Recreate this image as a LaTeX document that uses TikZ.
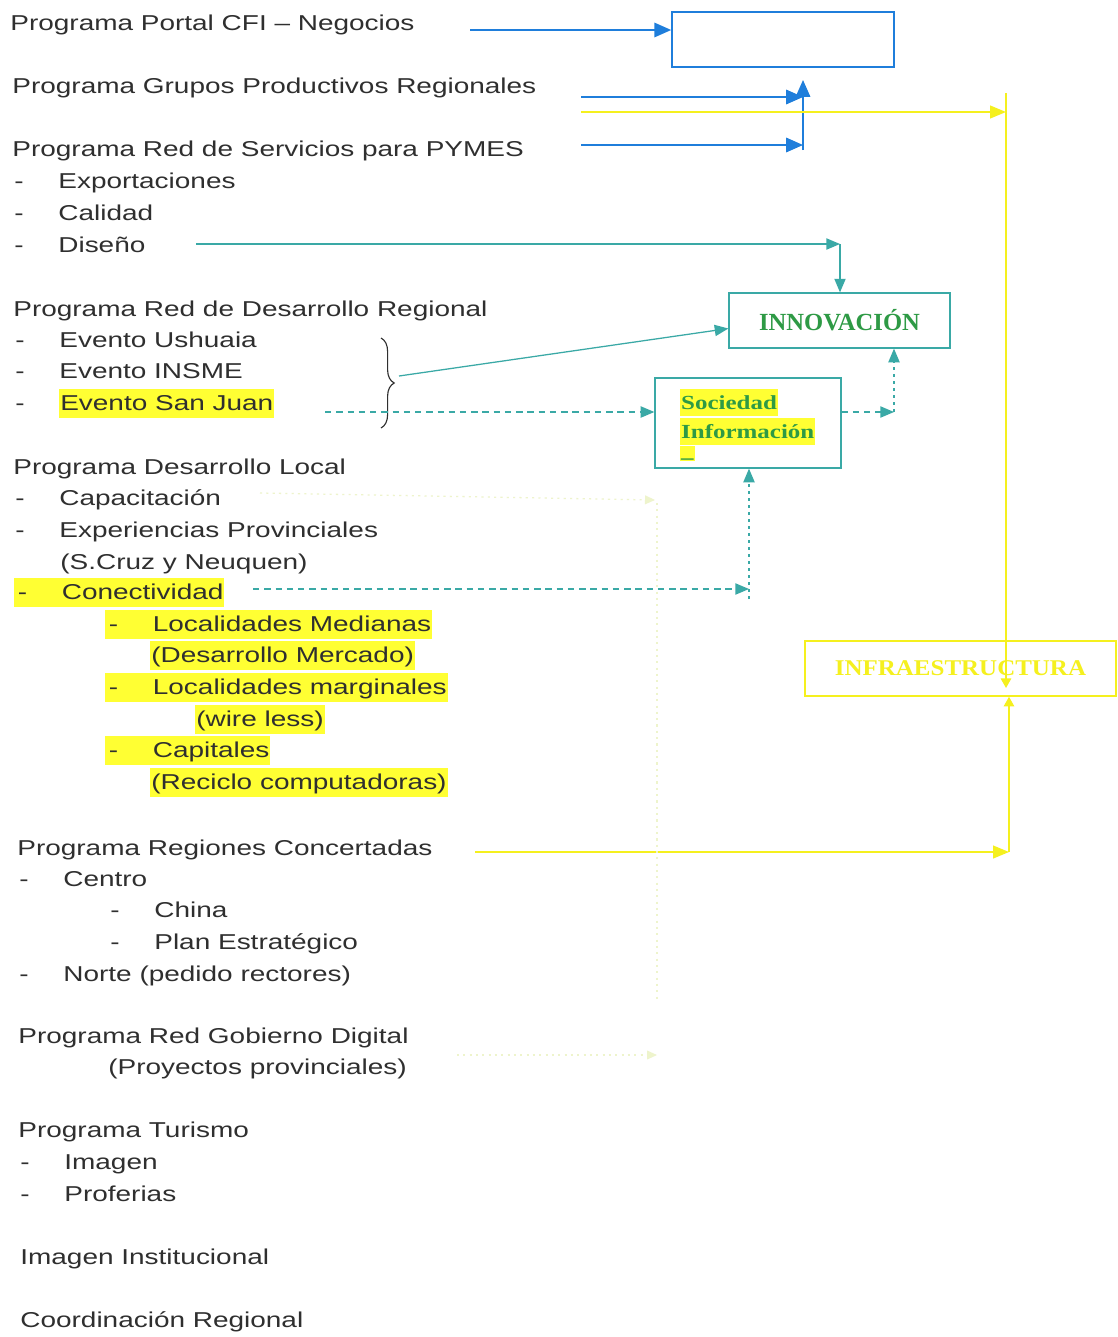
\documentclass[tikz,border=0pt]{standalone}
\usepackage{fontspec}
\setmainfont{Liberation Sans}
\newfontfamily\boxserif{Liberation Serif}
\usetikzlibrary{arrows.meta, decorations.pathreplacing}
\definecolor{colText}{HTML}{2F2F2F}
\definecolor{colBlue}{HTML}{1F7EDB}
\definecolor{colTeal}{HTML}{3AA9A6}
\definecolor{colGreen}{HTML}{2E9A45}
\definecolor{colYel}{HTML}{F5F01E}
\definecolor{colHl}{HTML}{FFFF33}
\definecolor{colFaint}{HTML}{EEF4CC}
\setlength{\fboxsep}{0.5pt}
\newcommand{\hlt}[1]{\colorbox{colHl}{\rule[-0.32em]{0pt}{1.28em}#1}}
\newcommand{\tabdash}{\makebox[0.846cm][l]{-}}

\begin{document}
\begin{tikzpicture}[
  x=0.025cm, y=-0.025cm,
  txt/.style={anchor=base west, inner sep=0pt, xscale=1.3, text=colText,
    font=\fontsize{15.3}{18}\selectfont},
  blueBox/.style={draw=colBlue, line width=1.1pt, minimum width=5.55cm,
    minimum height=1.375cm, inner sep=0pt},
  innoBox/.style={draw=colTeal, line width=0.9pt, minimum width=5.525cm,
    minimum height=1.375cm, inner sep=0pt, text=colGreen,
    font=\boxserif\bfseries\fontsize{17.5}{20}\selectfont},
  socBox/.style={draw=colTeal, line width=0.9pt, minimum width=4.65cm,
    minimum height=2.25cm, inner sep=0pt},
  socLbl/.style={anchor=north west, inner sep=0pt, align=left, xscale=1.25,
    text=colGreen, font=\boxserif\bfseries\fontsize{14.2}{20.6}\selectfont},
  infraBox/.style={draw=colYel, line width=1.1pt, xscale=1.11,
    minimum width=7.0cm, minimum height=1.375cm, inner sep=0pt, text=colYel,
    font=\boxserif\bfseries\fontsize{16}{19}\selectfont},
  bluearr/.style={-{Triangle[length=0.42cm,width=0.36cm]}, colBlue, line width=1.3pt},
  yelarr/.style={-{Triangle[length=0.4cm,width=0.32cm]}, colYel, line width=1.3pt},
  yelarrS/.style={-{Triangle[length=0.24cm,width=0.26cm]}, colYel, line width=1.1pt},
  tealarr/.style={-{Triangle[length=0.34cm,width=0.28cm]}, colTeal, line width=0.9pt},
  tealdash/.style={tealarr, dash pattern=on 4.5pt off 3.5pt},
  tealdot/.style={tealarr, dash pattern=on 2pt off 3pt},
  faintarr/.style={-{Triangle[length=0.25cm,width=0.22cm]}, colFaint,
    line width=0.9pt, dash pattern=on 1.5pt off 3pt},
]

\fill[white] (0,0) rectangle (1118,1337);
\useasboundingbox (0,0) rectangle (1118,1337);

%% ============================================================
%% Program list (left column)
%% ============================================================
\node[txt] (progPortal) at (10,30) {Programa Portal CFI – Negocios};
\node[txt] (progGrupos) at (12,93) {Programa Grupos Productivos Regionales};
\node[txt] (progServ)   at (12,156) {Programa Red de Servicios para PYMES};
\node[txt] (itExport)   at (14,188) {\tabdash Exportaciones};
\node[txt] (itCalidad)  at (14,220) {\tabdash Calidad};
\node[txt] (itDiseno)   at (14,252) {\tabdash Diseño};

\node[txt] (progDesReg) at (13,316) {Programa Red de Desarrollo Regional};
\node[txt] (itUshuaia)  at (15,347) {\tabdash Evento Ushuaia};
\node[txt] (itInsme)    at (15,378) {\tabdash Evento INSME};
\node[txt] (itSanJuan)  at (15,410) {\tabdash\hlt{Evento San Juan}};

\node[txt] (progDesLoc) at (13,474) {Programa Desarrollo Local};
\node[txt] (itCapac)    at (15,505) {\tabdash Capacitación};
\node[txt] (itExper)    at (15,537) {\tabdash Experiencias Provinciales};
\node[txt] (itExperB)   at (60,569) {(S.Cruz y Neuquen)};
\node[txt] (itConect)   at (14,599) {\hlt{\hspace{0.05cm}\tabdash Conectividad}};
\node[txt] (itLocMed)   at (105,631) {\hlt{\hspace{0.05cm}\tabdash Localidades Medianas}};
\node[txt] (itLocMedB)  at (150,662) {\hlt{(Desarrollo Mercado)}};
\node[txt] (itLocMarg)  at (105,694) {\hlt{\hspace{0.05cm}\tabdash Localidades marginales}};
\node[txt] (itLocMargB) at (195,726) {\hlt{(wire less)}};
\node[txt] (itCapit)    at (105,757) {\hlt{\hspace{0.05cm}\tabdash Capitales}};
\node[txt] (itCapitB)   at (150,789) {\hlt{(Reciclo computadoras)}};

\node[txt] (progRegiones) at (17,855) {Programa Regiones Concertadas};
\node[txt] (itCentro)   at (19,886) {\tabdash Centro};
\node[txt] (itChina)    at (110,917) {\tabdash China};
\node[txt] (itPlan)     at (110,949) {\tabdash Plan Estratégico};
\node[txt] (itNorte)    at (19,981) {\tabdash Norte (pedido rectores)};

\node[txt] (progGobDig)  at (18,1043) {Programa Red Gobierno Digital};
\node[txt] (progGobDigB) at (108,1074) {(Proyectos provinciales)};

\node[txt] (progTurismo) at (18,1137) {Programa Turismo};
\node[txt] (itImagen)    at (20,1169) {\tabdash Imagen};
\node[txt] (itProferias) at (20,1201) {\tabdash Proferias};

\node[txt] (imgInst)  at (20,1264) {Imagen Institucional};
\node[txt] (coordReg) at (20,1327) {Coordinación Regional};

%% ============================================================
%% Target boxes (right side)
%% ============================================================
\node[blueBox] (portalBox) at (783,39.5) {};
\node[innoBox] (innov) at (839.5,320.5) {INNOVACIÓN};
\node[socBox] (socinf) at (748,423) {};
\node[socLbl] (socText) at (680,389)
  {\hlt{Sociedad}\\\hlt{Información}\\[-7pt]\colorbox{colHl}{\rule[-0.05em]{0pt}{0.6em}\_}};
\node[infraBox] (infra) at (960.5,668.5) {INFRAESTRUCTURA};

%% ============================================================
%% Blue connectors
%% ============================================================
\coordinate (aPortal) at (470,30);
\coordinate (aGrupos) at (581,97);
\coordinate (aServ) at (581,145);
\coordinate (jBlue) at (803,145);
\coordinate (jBlueBot) at (803,150);
\coordinate (jBlueTop) at (803,80);
\draw[bluearr] (aPortal) -- (aPortal -| portalBox.west);
\draw[bluearr] (aGrupos) -- (aGrupos -| jBlue);
\draw[bluearr] (aServ) -- (jBlue);
\draw[bluearr] (jBlueBot) -- (jBlueTop);

%% ============================================================
%% Yellow connectors (to infraestructura)
%% ============================================================
\coordinate (aYel) at (581,112);
\coordinate (yTop) at (1006,93);
\coordinate (yDown) at (1006,688);
\coordinate (aReg) at (475,852);
\coordinate (yBot) at (1009,852);
\draw[yelarr] (aYel) -- (aYel -| yTop);
\draw[yelarrS] (yTop) -- (yDown);
\draw[yelarr] (aReg) -- (yBot);
\draw[yelarrS] (yBot) -- (yBot |- infra.south);

%% ============================================================
%% Teal connectors (innovacion / sociedad informacion)
%% ============================================================
\coordinate (aDiseno) at (196,244);
\coordinate (jDiseno) at (840,244);
\draw[tealarr] (aDiseno) -- (jDiseno);
\draw[tealarr] (jDiseno) -- (jDiseno |- innov.north);

\draw[colText, line width=0.8pt, decorate, decoration={brace, amplitude=0.33cm}]
  (381,338) -- (381,428);
\coordinate (brTip) at (399,376);
\draw[tealarr] (brTip) -- ([yshift=-0.2cm]innov.west);

\coordinate (aSanJuan) at (325,412);
\coordinate (jSoc) at (894,412);
\draw[tealdash] (aSanJuan) -- (aSanJuan -| socinf.west);
\draw[tealdash] (jSoc -| socinf.east) -- (jSoc);
\draw[tealdot] (jSoc) -- (jSoc |- innov.south);

\coordinate (aConect) at (253,589);
\coordinate (jConect) at (749,589);
\coordinate (jConectBot) at (749,599);
\draw[tealdash] (aConect) -- (jConect);
\draw[tealdot] (jConectBot) -- (jConectBot |- socinf.south);

%% ============================================================
%% Faint connectors
%% ============================================================
\coordinate (aCapac) at (260,493);
\coordinate (fTip) at (655,500);
\coordinate (fTop) at (657,503);
\coordinate (fBot) at (657,1000);
\coordinate (aGobDig) at (457,1055);
\draw[faintarr] (aCapac) -- (fTip);
\draw[faintarr, -] (fTop) -- (fBot);
\draw[faintarr] (aGobDig) -- (aGobDig -| fBot);

\end{tikzpicture}
\end{document}
